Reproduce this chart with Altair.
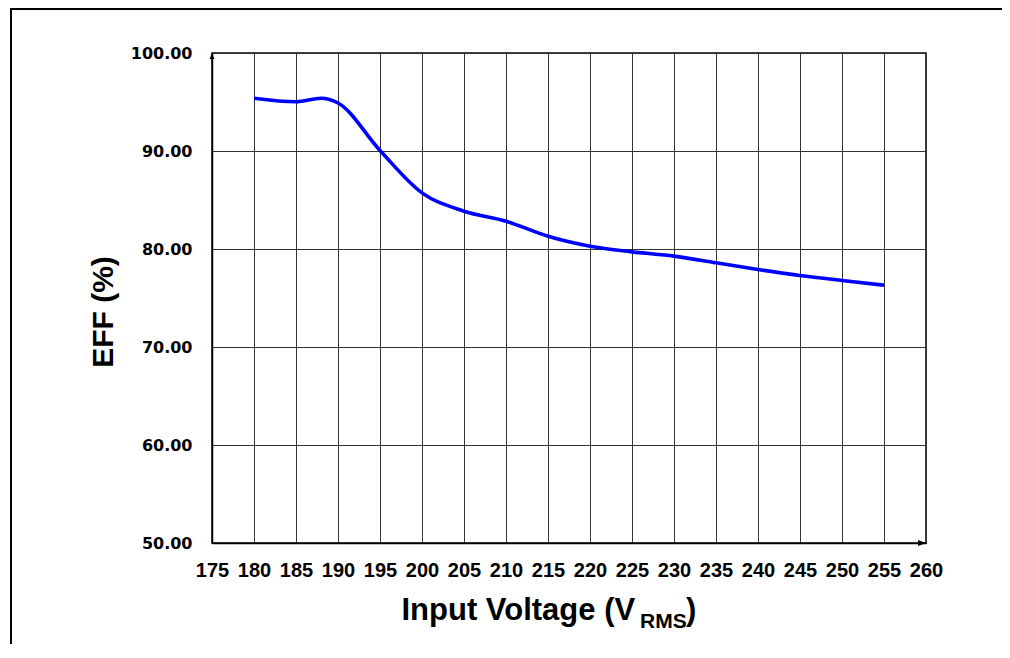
import altair as alt
import pandas as pd

# ---- data ----
voltage = [180, 185, 188, 190, 195, 200, 205, 210, 215, 220, 225, 230, 235, 240, 245, 250, 255]
efficiency = [95.38, 95.02, 95.38, 94.90, 90.05, 85.73, 83.86, 82.84, 81.30, 80.29, 79.71, 79.27,
              78.59, 77.91, 77.30, 76.79, 76.31]
x_ticks = list(range(175, 261, 5))
y_ticks = [50, 60, 70, 80, 90, 100]

df = pd.DataFrame({"v": voltage, "eff": efficiency})
one = pd.DataFrame({"k": [0]})

W, H = 714, 490
PAD = {"left": 204, "top": 45, "right": 76, "bottom": 101}

x_scale = alt.Scale(domain=[175, 260], nice=False, zero=False)
y_scale = alt.Scale(domain=[50, 100], nice=False, zero=False)

x_axis = alt.Axis(values=x_ticks, title=None, grid=True, ticks=False,
                  labelFont="Liberation Sans", labelFontSize=20, labelFontWeight="bold",
                  labelColor="#000", labelPadding=17, labelFlush=False,
                  labelOverlap=False, domainColor="#000", domainWidth=1.5,
                  gridColor="#333", gridWidth=1)
y_axis = alt.Axis(values=y_ticks, format=".2f", title=None, grid=True, ticks=False,
                  labelFont="DejaVu Sans", labelFontSize=16, labelFontWeight="bold",
                  labelColor="#000", labelPadding=20, labelFlush=False,
                  labelOverlap=False, domainColor="#000", domainWidth=1.5,
                  gridColor="#333", gridWidth=1)

line = alt.Chart(df).mark_line(color="#0000FF", strokeWidth=3.6, interpolate="monotone").encode(
    x=alt.X("v:Q", scale=x_scale, axis=x_axis),
    y=alt.Y("eff:Q", scale=y_scale, axis=y_axis),
)

# axis arrowheads
x_arrow = alt.Chart(one).mark_point(
    shape="M-1,-0.375L0,0L-1,0.375Z", size=256, filled=True, color="#000", opacity=1
).encode(x=alt.datum(260, scale=x_scale), y=alt.datum(50, scale=y_scale))
y_arrow = alt.Chart(one).mark_point(
    shape="M-0.4,1L0,0L0.4,1Z", size=144, filled=True, color="#000", opacity=1
).encode(x=alt.datum(175, scale=x_scale), y=alt.datum(100, scale=y_scale))

# outer frame (top and left edges)
frame_top = alt.Chart(one).mark_rule(color="#000", strokeWidth=2).encode(
    x=alt.value(-202), x2=alt.value(800), y=alt.value(-44))
frame_left = alt.Chart(one).mark_rule(color="#000", strokeWidth=2).encode(
    x=alt.value(-201), y=alt.value(-45), y2=alt.value(600))

# axis titles
font = "Liberation Sans"
y_title = alt.Chart(one).mark_text(
    text="EFF (%)", angle=270, font=font, fontSize=30, fontWeight="bold",
    align="center", baseline="middle", color="#000"
).encode(x=alt.value(-108), y=alt.value(259))
x_title_main = alt.Chart(one).mark_text(
    text="Input Voltage (V", font=font, fontSize=31, fontWeight="bold",
    align="left", baseline="alphabetic", color="#000"
).encode(x=alt.value(189.5), y=alt.value(567))
x_title_sub = alt.Chart(one).mark_text(
    text="RMS", font=font, fontSize=21, fontWeight="bold",
    align="left", baseline="alphabetic", color="#000"
).encode(x=alt.value(428), y=alt.value(575))
x_title_end = alt.Chart(one).mark_text(
    text=")", font=font, fontSize=31, fontWeight="bold",
    align="left", baseline="alphabetic", color="#000"
).encode(x=alt.value(474), y=alt.value(567))

chart = alt.layer(
    line, x_arrow, y_arrow, frame_top, frame_left,
    y_title, x_title_main, x_title_sub, x_title_end
).properties(
    width=W, height=H, padding=PAD,
    autosize=alt.AutoSizeParams(type="none"),
    background="white",
).configure_view(stroke="#000", strokeWidth=1.5)

chart.save("out.html", embed_options={"renderer": "svg", "actions": False})
